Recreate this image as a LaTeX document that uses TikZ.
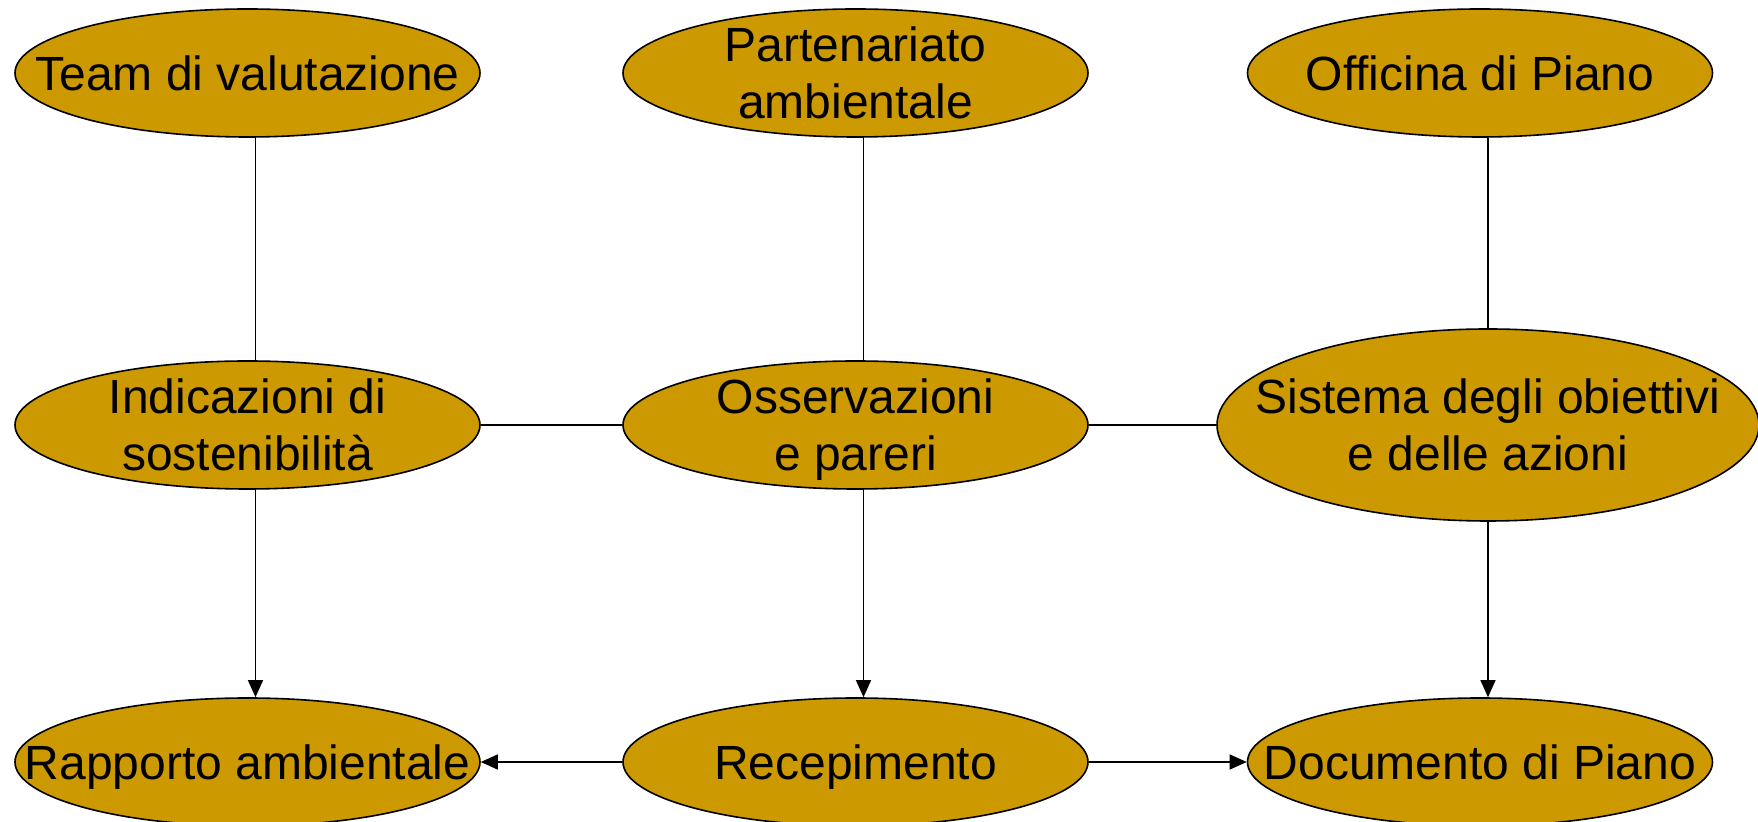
\documentclass[tikz,border=0pt]{standalone}
\usepackage{fontspec}
\setmainfont{Liberation Sans}
\usepackage{tikz}
\usetikzlibrary{shapes.geometric, arrows.meta}
\definecolor{ocra}{RGB}{204,153,0}
\tikzset{
	bolla/.style={ellipse, draw=black, line width=0.8pt, fill=ocra, inner sep=0pt, minimum width=232.5pt, minimum height=64pt},
	testo/.style={align=center, inner sep=0pt, text depth=0pt, font=\fontsize{24}{28.5}\selectfont},
	linea/.style={line width=0.7pt},
	freccia/.style={linea, -{Triangle[length=8.5pt,width=7.5pt]}}
}

\begin{document}
\begin{tikzpicture}[x=0.5pt,y=0.5pt,yscale=-1,xscale=1]
		\useasboundingbox (0,0) rectangle (1758,822);

		%Shape: Ellipse, top row
		\node[bolla, label={[testo]center:Team di valutazione}] (team) at (247.5,73) {};
		\node[bolla, label={[testo]center:Partenariato\\ambientale}] (part) at (855.5,73) {};
		\node[bolla, label={[testo]center:Officina di Piano}] (offic) at (1480,73) {};
		%Shape: Ellipse, middle row
		\node[bolla, label={[testo]center:Indicazioni di\\sostenibilità}] (indic) at (247.5,425) {};
		\node[bolla, label={[testo]center:Osservazioni\\e pareri}] (osserv) at (855.5,425) {};
		\node[bolla, minimum width=271pt, minimum height=96pt, label={[testo]center:Sistema degli obiettivi\\e delle azioni}] (sist) at (1488,425) {};
		%Shape: Ellipse, bottom row
		\node[bolla, label={[testo]center:Rapporto ambientale}] (rapp) at (247.5,762) {};
		\node[bolla, label={[testo]center:Recepimento}] (recep) at (855.5,762) {};
		\node[bolla, label={[testo]center:Documento di Piano}] (docu) at (1480,762) {};

		%Straight Lines
		\draw[linea] ([xshift=4pt]team.south) -- ([xshift=4pt]indic.north);
		\draw[linea] ([xshift=4pt]part.south) -- ([xshift=4pt]osserv.north);
		\draw[linea] ([xshift=4pt]offic.south) -- (sist.north);
		\draw[linea] (indic.east) -- (osserv.west);
		\draw[linea] (osserv.east) -- (sist.west);
		%Arrows
		\draw[freccia] ([xshift=4pt]indic.south) -- ([xshift=4pt]rapp.north);
		\draw[freccia] ([xshift=4pt]osserv.south) -- ([xshift=4pt]recep.north);
		\draw[freccia] (sist.south) -- ([xshift=4pt]docu.north);
		\draw[freccia] (recep.west) -- (rapp.east);
		\draw[freccia] (recep.east) -- (docu.west);

\end{tikzpicture}
\end{document}
